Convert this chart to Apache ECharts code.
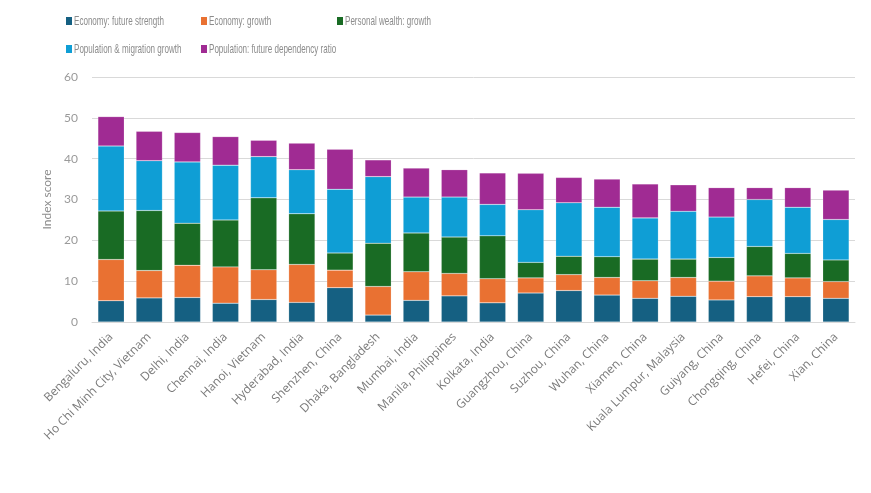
<!DOCTYPE html>
<html>
<head>
<meta charset="utf-8">
<script src="https://cdn.jsdelivr.net/npm/echarts@6/dist/echarts.min.js"></script>
<style>
  html, body { margin: 0; padding: 0; background: #fff; }
  #chart { width: 871px; height: 493px; }
</style>
</head>
<body>
<div id="chart"></div>
<script>
// city rankings
var cities = ['Bengaluru, India', 'Ho Chi Minh City, Vietnam', 'Delhi, India', 'Chennai, India',
  'Hanoi, Vietnam', 'Hyderabad, India', 'Shenzhen, China', 'Dhaka, Bangladesh', 'Mumbai, India',
  'Manila, Philippines', 'Kolkata, India', 'Guangzhou, China', 'Suzhou, China', 'Wuhan, China',
  'Xiamen, China', 'Kuala Lumpur, Malaysia', 'Guiyang, China', 'Chongqing, China', 'Hefei, China', 'Xian, China']

var seriesNames = ['Economy: future strength', 'Economy: growth', 'Personal wealth: growth',
  'Population & migration growth', 'Population: future dependency ratio']

var econStrength = [5.2, 5.9, 6.0, 4.6, 5.5, 4.8, 8.4, 1.7, 5.3, 6.4, 4.7, 7.1, 7.7, 6.6, 5.8, 6.3, 5.4, 6.2, 6.2, 5.8]
var econGrowth   = [10.1, 6.7, 7.9, 8.9, 7.3, 9.3, 4.3, 7.0, 7.0, 5.5, 5.9, 3.7, 3.9, 4.3, 4.3, 4.6, 4.6, 5.1, 4.6, 4.1]
var wealthGrowth = [11.9, 14.7, 10.3, 11.5, 17.6, 12.4, 4.2, 10.6, 9.5, 8.9, 10.5, 3.8, 4.5, 5.1, 5.3, 4.5, 5.8, 7.2, 6.0, 5.3]
var popGrowth    = [15.9, 12.2, 15.0, 13.4, 10.1, 10.8, 15.6, 16.3, 8.8, 9.8, 7.7, 12.9, 13.1, 12.1, 10.1, 11.7, 9.9, 11.5, 11.3, 9.9]
var dependency   = [7.2, 7.2, 7.2, 7.0, 4.0, 6.5, 9.8, 4.1, 7.1, 6.7, 7.7, 8.9, 6.2, 6.9, 8.3, 6.5, 7.2, 2.9, 4.8, 7.2]

var yTicks = [0, 10, 20, 30, 40, 50, 60]

var colors = ['#156082', '#E97132', '#196B24', '#0F9ED5', '#A02B93']
var values = [econStrength, econGrowth, wealthGrowth, popGrowth, dependency]

var chart = echarts.init(document.getElementById('chart'))

// the original legend uses a narrow font in a 3-column grid; the echarts legend
// can't squeeze text, so draw it as graphic text with a horizontal scale
var legendPos = [[66, 21], [201, 21], [337, 21], [66, 49], [201, 49]]
var legendGraphic = []
seriesNames.forEach(function (name, i) {
  var p = legendPos[i]
  legendGraphic.push({
    type: 'rect',
    shape: { x: p[0], y: p[1] - 4, width: 6, height: 8 },
    style: { fill: colors[i] }
  })
  legendGraphic.push({
    type: 'text',
    x: p[0] + 8,
    y: p[1],
    scaleX: 0.62,
    style: {
      text: name,
      fill: '#8c8c8c',
      font: '13px "Liberation Sans", Arial, sans-serif',
      verticalAlign: 'middle'
    }
  })
})

var series = seriesNames.map(function (name, i) {
  return {
    name: name,
    type: 'bar',
    stack: 'total',
    barCategoryGap: '31%',
    itemStyle: { color: colors[i], borderColor: 'rgba(255,255,255,0.35)', borderWidth: 0.5 },
    data: values[i]
  }
})

var option = {
  animation: false,
  color: colors,
  graphic: legendGraphic,
  grid: { left: 92, right: 16, top: 77, bottom: 171 },
  xAxis: {
    type: 'category',
    data: cities,
    axisLine: { lineStyle: { color: '#d9d9d9' } },
    axisTick: { show: false },
    axisLabel: {
      rotate: 45,
      interval: 0,
      color: '#7a7a7a',
      fontSize: 12,
      fontFamily: 'Open Sans',
      margin: 13
    }
  },
  yAxis: {
    type: 'value',
    min: yTicks[0],
    max: yTicks[yTicks.length - 1],
    interval: 10,
    name: 'Index score',
    nameLocation: 'middle',
    nameGap: 28,
    nameTextStyle: { color: '#8c8c8c', fontSize: 12, fontFamily: 'Lato' },
    axisLabel: { color: '#9a9a9a', fontSize: 12, fontFamily: 'Lato', margin: 14 },
    splitLine: { lineStyle: { color: '#d9d9d9' } },
    axisLine: { show: false },
    axisTick: { show: false }
  },
  series: series
}

chart.setOption(option)
</script>
</body>
</html>
